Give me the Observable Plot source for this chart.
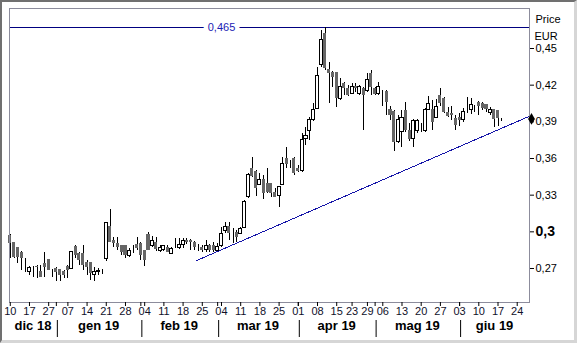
<!DOCTYPE html>
<html><head><meta charset="utf-8">
<script src="https://cdn.jsdelivr.net/npm/d3@7"></script>
<script src="https://cdn.jsdelivr.net/npm/@observablehq/plot@0.6"></script>
<style>
body{margin:0;background:#fff;}
#wrap{position:relative;width:577px;height:343px;overflow:hidden;background:#fff;}
#wrap svg{position:absolute;left:0;top:0;}
#border{position:absolute;left:0;top:0;width:577px;height:343px;box-sizing:border-box;border-top:2px solid #707070;border-left:2px solid #707070;border-right:3px solid #d6d6d6;border-bottom:3px solid #d6d6d6;pointer-events:none;}
</style></head><body>
<div id="wrap"><div id="border"></div></div>
<script>
// ---- Data (EUR, daily OHLC, trading days from 2018-12-10) ----
const open  = [.2970,.2915,.2874,.2833,.2730,.2670,.2711,.2719,.2675,.2738,.2771,.2683,.2702,.2691,.2675,.2719,.2697,.2880,.2820,.2820,.2752,.2752,.2648,.2670,.2678,.2779,.3046,.2929,.2902,.2888,.2888,.2806,.2874,.2893,.2902,.2847,.2975,.2882,.2915,.2847,.2855,.2874,.2820,.2888,.2866,.2893,.2929,.2929,.2915,.2860,.2874,.2852,.2885,.2885,.2847,.2885,.3005,.3043,.2983,.2994,.2983,.3032,.3283,.3515,.3496,.3387,.3425,.3392,.3392,.3324,.3297,.3384,.3603,.3556,.3603,.3515,.3496,.3761,.3821,.3911,.4006,.4361,.4620,.4325,.4306,.4306,.4088,.4211,.4170,.4129,.4191,.4129,.4170,.4156,.4293,.4170,.4129,.4107,.4151,.3998,.3987,.3733,.3816,.3993,.3829,.3761,.3829,.3837,.3829,.3998,.3998,.3932,.4115,.4088,.3979,.3971,.3930,.3932,.3911,.3987,.3993,.4006,.4061,.4047,.4042,.3971,.3998,.3993,.3924];
const high  = [.2975,.2915,.2874,.2839,.2779,.2719,.2719,.2724,.2724,.2833,.2771,.2691,.2711,.2691,.2683,.2724,.2839,.2888,.2833,.2888,.2765,.2752,.2711,.2697,.2691,.3079,.3182,.2956,.2956,.2888,.2888,.2861,.2888,.2956,.2915,.2847,.2991,.2964,.2956,.2888,.2888,.2888,.2874,.2943,.2948,.2948,.2948,.2934,.2923,.2896,.2888,.2929,.2896,.2915,.2907,.3038,.3079,.3079,.3024,.3010,.3032,.3256,.3474,.3611,.3502,.3474,.3461,.3515,.3392,.3351,.3371,.3611,.3693,.3583,.3611,.3542,.3802,.3851,.3938,.4047,.4347,.4647,.4675,.4388,.4314,.4306,.4252,.4224,.4197,.4211,.4211,.4197,.4184,.4293,.4320,.4184,.4224,.4156,.4156,.4025,.3993,.3952,.3993,.4061,.3883,.3916,.3916,.3883,.4006,.4107,.4074,.4080,.4170,.4096,.4020,.4025,.3952,.3965,.4006,.4102,.4088,.4034,.4069,.4055,.4042,.4015,.3998,.3993,.3924];
const low   = [.2779,.2779,.2738,.2683,.2670,.2642,.2629,.2620,.2629,.2629,.2680,.2629,.2593,.2593,.2615,.2620,.2691,.2779,.2724,.2683,.2642,.2601,.2593,.2642,.2648,.2757,.2915,.2874,.2847,.2806,.2779,.2792,.2820,.2847,.2765,.2719,.2847,.2874,.2839,.2833,.2839,.2828,.2811,.2861,.2855,.2861,.2893,.2847,.2847,.2841,.2833,.2833,.2833,.2833,.2836,.2874,.2983,.2929,.2907,.2915,.2978,.3024,.3270,.3447,.3289,.3379,.3261,.3310,.3278,.3278,.3201,.3379,.3515,.3515,.3461,.3488,.3488,.3706,.3747,.3905,.3998,.4347,.4320,.4047,.4184,.4020,.4074,.4115,.4108,.4124,.4143,.4115,.3829,.4143,.4115,.4115,.4115,.4025,.3952,.3911,.3660,.3720,.3687,.3815,.3741,.3687,.3801,.3815,.3815,.3993,.3829,.3924,.4025,.3971,.3932,.3911,.3829,.3862,.3897,.3971,.3960,.3979,.3952,.3993,.3979,.3952,.3851,.3862,.3905];
const close = [.2902,.2792,.2792,.2779,.2730,.2702,.2708,.2711,.2629,.2711,.2683,.2683,.2670,.2642,.2642,.2683,.2833,.2806,.2765,.2724,.2711,.2656,.2675,.2683,.2678,.3073,.2915,.2902,.2874,.2833,.2806,.2847,.2874,.2866,.2806,.2765,.2847,.2921,.2852,.2866,.2880,.2833,.2861,.2888,.2893,.2921,.2910,.2915,.2874,.2860,.2847,.2880,.2847,.2847,.2874,.2983,.3043,.2983,.2983,.2950,.3024,.3248,.3461,.3455,.3351,.3428,.3310,.3324,.3316,.3283,.3365,.3551,.3551,.3556,.3474,.3496,.3752,.3788,.3911,.3998,.4271,.4571,.4334,.4298,.4265,.4088,.4184,.4170,.4115,.4189,.4170,.4184,.4115,.4243,.4184,.4123,.4184,.4107,.4061,.3952,.3733,.3911,.3932,.3829,.3752,.3903,.3905,.3837,.3998,.4042,.3897,.4020,.4047,.3979,.3943,.3952,.3870,.3911,.3979,.3987,.4034,.4006,.4025,.4006,.3998,.3998,.3916,.3924,.3924];

// trading calendar (Borsa Italiana closures)
const holidays = ["2018-12-24","2018-12-25","2018-12-26","2018-12-31","2019-01-01","2019-04-19","2019-04-22","2019-05-01"];
const firstDay = "2018-12-10", lastDay = "2019-07-01";

// axis labels
const tickDates = ["2018-12-10","2018-12-17","2018-12-27","2019-01-07","2019-01-14","2019-01-21","2019-01-28","2019-02-04","2019-02-11","2019-02-18","2019-02-25","2019-03-04","2019-03-11","2019-03-18","2019-03-25","2019-04-01","2019-04-08","2019-04-15","2019-04-23","2019-04-29","2019-05-06","2019-05-13","2019-05-20","2019-05-27","2019-06-03","2019-06-10","2019-06-17","2019-06-24"];
const monthStarts = ["2019-01-02","2019-02-01","2019-03-01","2019-04-01","2019-05-02","2019-06-03"];
const monthNames  = ["dic 18","gen 19","feb 19","mar 19","apr 19","mag 19","giu 19"];
const yTicks = [0.27,0.30,0.33,0.36,0.39,0.42,0.45];
const yTickLabels = ["0,27","0,3","0,33","0,36","0,39","0,42","0,45"];
const unitLabels = ["Price","EUR"];
const highLabel = "0,465";
const highLabelDate = "2019-03-04";
// support trendline (trading-day index, price)
const trendIdx = [48.5, 135.2];
const trendVal = [0.2765, 0.3946];

// ---- build ----
const fmt = d3.utcFormat("%Y-%m-%d");
const calendar = d3.utcDays(new Date(firstDay), new Date(lastDay))
  .filter(d => d.getUTCDay() !== 0 && d.getUTCDay() !== 6 && !holidays.includes(fmt(d)))
  .map(fmt);
const idx = s => calendar.indexOf(s);

const candles = open.map((o, k) => ({i: k, o, h: high[k], l: low[k], c: close[k]}));
const up = candles.filter(d => d.c >= d.o);
const down = candles.filter(d => d.c < d.o);
const maxHigh = d3.max(high);
const xDomain = [-0.2, 135.2];
const tickIdx = tickDates.map(idx);
const monthIdx = monthStarts.map(idx);
const bounds = [xDomain[0], ...monthIdx, xDomain[1]];
const months = monthNames.map((m, k) => ({name: m, x: (bounds[k] + bounds[k + 1]) / 2}));
const trend = trendIdx.map((x, k) => ({x, y: trendVal[k]}));
const bw = 0.4;

const chart = Plot.plot({
  width: 577, height: 343,
  marginLeft: 9, marginRight: 48, marginTop: 8, marginBottom: 41,
  style: {fontFamily: "'Liberation Sans', Arial, sans-serif", fontSize: "11px", background: "transparent", color: "#000"},
  x: {domain: xDomain, axis: null},
  y: {domain: [0.24218, 0.48273], axis: null},
  marks: [
    Plot.ruleY([maxHigh], {stroke: "#000080", strokeWidth: 1, shapeRendering: "crispEdges"}),
    Plot.text([highLabel], {x: idx(highLabelDate), y: maxHigh, text: d => d, fill: "#1c1cb4", stroke: "white", strokeWidth: 9, fontSize: 11}),
    Plot.line(trend, {x: "x", y: "y", stroke: "#1414a8", strokeWidth: 1, shapeRendering: "crispEdges"}),
    Plot.ruleX(candles, {x: "i", y1: "l", y2: "h", stroke: "black", strokeWidth: 1, shapeRendering: "crispEdges"}),
    Plot.rect(down, {x1: d => d.i - bw, x2: d => d.i + bw, y1: "o", y2: "c", fill: "#666666", shapeRendering: "crispEdges"}),
    Plot.rect(up, {x1: d => d.i - bw, x2: d => d.i + bw, y1: "o", y2: "c", fill: "white", stroke: "black", strokeWidth: 1, shapeRendering: "crispEdges"}),
    Plot.frame({stroke: "#8c8c9c", shapeRendering: "crispEdges"}),
    Plot.axisY({anchor: "right", ticks: yTicks, tickFormat: v => yTickLabels[yTicks.indexOf(v)], tickSize: 4, tickPadding: 2, fontSize: 11, label: null}),
    Plot.axisX({anchor: "bottom", ticks: tickIdx, tickFormat: v => tickDates[tickIdx.indexOf(v)].slice(8), tickSize: 4, tickPadding: 1, fontSize: 11, fill: "#10102a", label: null}),
    Plot.tickX(monthIdx, {x: d => d, stroke: "black", insetTop: 294, insetBottom: -4}),
    Plot.ruleX(monthIdx, {stroke: "black", strokeWidth: 1, dx: 1, insetTop: 312, insetBottom: -35}),
    Plot.text(months, {x: "x", frameAnchor: "bottom", dy: 27, text: "name", fontWeight: "bold", fontSize: 13, fill: "#000"}),
    Plot.text([unitLabels[0]], {frameAnchor: "top-right", text: d => d, dx: 6, dy: 7, textAnchor: "start", fontSize: 11}),
    Plot.text([unitLabels[1]], {frameAnchor: "top-right", text: d => d, dx: 5, dy: 24, textAnchor: "start", fontSize: 11}),
    Plot.dot([close[close.length - 1]], {x: xDomain[1], y: d => d, symbol: "diamond", fill: "black", stroke: "none", r: 3.6, dx: 2})
  ]
});
// bold emphasised round tick
d3.select(chart).selectAll("text").filter(function(){ return this.textContent === "0,3"; })
  .style("font-weight", "bold").style("font-size", "14px");
document.getElementById("wrap").insertBefore(chart, document.getElementById("border"));
</script>
</body></html>
